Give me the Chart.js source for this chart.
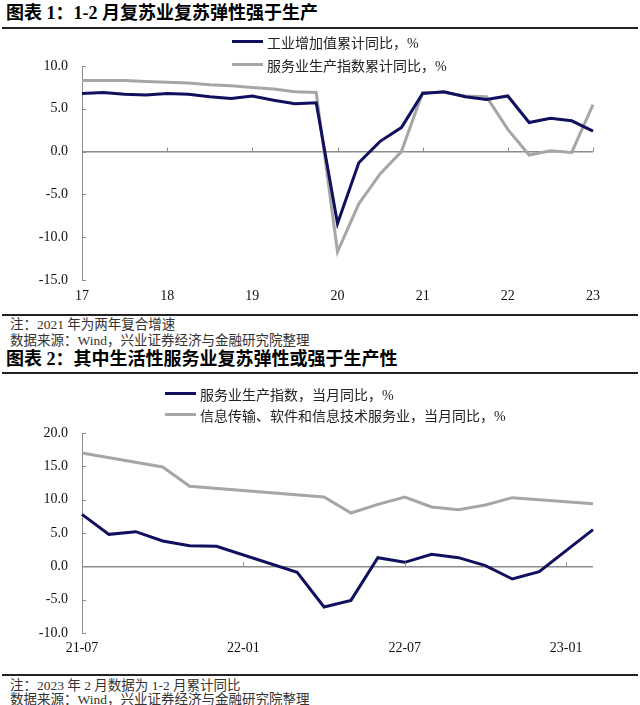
<!DOCTYPE html>
<html><head><meta charset="utf-8">
<script src="https://cdn.jsdelivr.net/npm/chart.js@4.4.1/dist/chart.umd.min.js"></script>
<style>
html,body{margin:0;padding:0;background:#fff;}
body{width:640px;height:705px;position:relative;overflow:hidden;font-family:"Liberation Serif","Noto Sans CJK SC",serif;color:#1a1a1a;}
.title{position:absolute;left:6px;font-size:18px;font-weight:bold;white-space:nowrap;line-height:20px;color:#000;}
.rule{position:absolute;left:2px;width:636px;height:2px;background:#222;}
.note{position:absolute;left:10px;font-size:13.5px;line-height:16px;white-space:nowrap;color:#333;}
canvas{position:absolute;left:0;}
.legend{position:absolute;font-size:14px;color:#222;}
.legend .item{display:flex;align-items:center;white-space:nowrap;}
.legend .swatch{display:inline-block;width:31px;height:3px;margin-right:4px;}
</style></head>
<body>
<div class="title" style="top:3px">图表 1：1-2 月复苏业复苏弹性强于生产</div>
<div class="rule" style="top:27px"></div>
<canvas id="c1" width="640" height="284" style="top:29px"></canvas>
<div class="legend" id="lg1" style="left:232px;top:30px"></div>
<div class="rule" style="top:314px"></div>
<div class="note" style="top:317px">注：2021 年为两年复合增速</div>
<div class="note" style="top:333px">数据来源：Wind，兴业证券经济与金融研究院整理</div>
<div class="title" style="top:349px">图表 2：其中生活性服务业复苏弹性或强于生产性</div>
<div class="rule" style="top:372px"></div>
<canvas id="c2" width="640" height="298" style="top:374px"></canvas>
<div class="legend" id="lg2" style="left:165px;top:383px"></div>
<div class="rule" style="top:674px"></div>
<div class="note" style="top:678px">注：2023 年 2 月数据为 1-2 月累计同比</div>
<div class="note" style="top:692px">数据来源：Wind，兴业证券经济与金融研究院整理</div>
<script>
// ---- Chart 1 data (cumulative YoY, %) ----
const periods1 = ['2017-03','2017-06','2017-09','2017-12','2018-03','2018-06','2018-09','2018-12',
  '2019-03','2019-06','2019-09','2019-12','2020-03','2020-06','2020-09','2020-12',
  '2021-03','2021-06','2021-09','2021-12','2022-03','2022-06','2022-09','2022-12','2023-02'];
const industryCum = [6.8,6.9,6.7,6.6, 6.8,6.7,6.4,6.2, 6.5,6.0,5.6,5.7, -8.4,-1.3,1.2,2.8, 6.8,7.0,6.4,6.1, 6.5,3.4,3.9,3.6, 2.4];
const servicesCum = [8.3,8.3,8.3,8.2, 8.1,8.0,7.8,7.7, 7.5,7.3,7.0,6.9, -11.7,-6.1,-2.6,0.0, 6.9,6.9,6.5,6.4, 2.6,-0.4,0.1,-0.1, 5.5];
const seriesNames1 = ['工业增加值累计同比，%','服务业生产指数累计同比，%'];
const yTicks1 = {min:-15, max:10, step:5};

// ---- Chart 2 data (monthly YoY, %) ----
const months2 = ['21-07','21-08','21-09','21-10','21-11','21-12','22-01','22-02','22-03','22-04',
  '22-05','22-06','22-07','22-08','22-09','22-10','22-11','22-12','23-01','23-02'];
const servicesMonthly = [7.8,4.8,5.2,3.8,3.1,3.0,null,null,-0.9,-6.1,-5.1,1.3,0.6,1.8,1.3,0.1,-1.9,-0.8,null,5.5];
const infoTechMonthly = [17.0,null,null,14.9,12.0,null,null,null,null,10.4,8.0,9.3,10.4,8.9,8.5,9.2,10.3,null,null,9.4];
const seriesNames2 = ['服务业生产指数，当月同比，%','信息传输、软件和信息技术服务业，当月同比，%'];
const shownLabels2 = ['21-07','22-01','22-07','23-01'];
const yTicks2 = {min:-10, max:20, step:5};

const NAVY = '#10105e', GRAY = '#a6a6a6', AXIS = '#8c8c8c';
const FONT = {family:'"Liberation Serif","Noto Sans CJK SC",serif', size:14};

const tickMarks = {
  id:'tickMarks',
  afterDraw(chart){
    const {ctx, chartArea, scales:{x,y}} = chart;
    ctx.save(); ctx.strokeStyle = AXIS; ctx.lineWidth = 1;
    ctx.beginPath();
    y.ticks.forEach(t => {
      const py = Math.round(y.getPixelForValue(t.value)) + 0.5;
      ctx.moveTo(chartArea.left, py); ctx.lineTo(chartArea.left + 4, py);
    });
    const zero = y.getPixelForValue(0);
    x.ticks.forEach((t, i) => {
      if (i === 0 || t.label === null || t.label === undefined || t.label === '') return;
      const px = Math.round(x.getPixelForValue(t.value)) + 0.5;
      ctx.moveTo(px, zero); ctx.lineTo(px, zero - 4);
    });
    ctx.stroke(); ctx.restore();
  }
};

function makeChart(id, labels, sets, names, yr, xLabelFn, pad, xHeight, xPad){
  return new Chart(document.getElementById(id), {
    type:'line',
    data:{labels, datasets: sets.map((d,i)=>({
      label:names[i], data:d, borderColor:i===0?NAVY:GRAY, backgroundColor:i===0?NAVY:GRAY,
      borderWidth:3, pointRadius:0, tension:0, spanGaps:true, fill:false, order: i===0?0:1
    }))},
    options:{
      responsive:false, animation:false, devicePixelRatio:1,
      layout:{padding:{top:pad.top, right:pad.right, left:0, bottom:0}},
      plugins:{legend:{display:false}, tooltip:{enabled:false}},
      scales:{
        x:{type:'category', offset:false,
          grid:{display:false, drawTicks:false}, border:{display:false},
          ticks:{autoSkip:false, maxRotation:0, padding:xPad, color:'#111', font:FONT,
            callback:(v,i)=>xLabelFn(labels[i], i)},
          afterFit:s=>{s.height = xHeight;}
        },
        y:{min:yr.min, max:yr.max,
          grid:{drawTicks:false, color:c=>c.tick.value===0?AXIS:'rgba(0,0,0,0)', lineWidth:c=>c.tick.value===0?1.5:0},
          border:{display:true, color:AXIS, width:1},
          ticks:{stepSize:yr.step, padding:14, color:'#111', font:FONT, callback:v=>Number(v).toFixed(1)},
          afterFit:s=>{s.width = 82;}
        }
      }
    },
    plugins:[tickMarks]
  });
}

function buildLegend(el, chart, rowH){
  chart.data.datasets.forEach(ds=>{
    const item = document.createElement('div'); item.className='item'; item.style.height = rowH+'px';
    const sw = document.createElement('span'); sw.className='swatch'; sw.style.background = ds.borderColor;
    const tx = document.createElement('span'); tx.textContent = ds.label;
    item.appendChild(sw); item.appendChild(tx); el.appendChild(item);
  });
}

const ch1 = makeChart('c1', periods1, [industryCum, servicesCum], seriesNames1, yTicks1,
  (lab,i)=> i % 4 === 0 ? lab.slice(2,4) : null, {top:37, right:47}, 33, 8);
const ch2 = makeChart('c2', months2, [servicesMonthly, infoTechMonthly], seriesNames2, yTicks2,
  (lab,i)=> shownLabels2.includes(lab) ? lab : null, {top:59, right:47}, 39, 7);
buildLegend(document.getElementById('lg1'), ch1, 23);
buildLegend(document.getElementById('lg2'), ch2, 21);
</script>
</body></html>
